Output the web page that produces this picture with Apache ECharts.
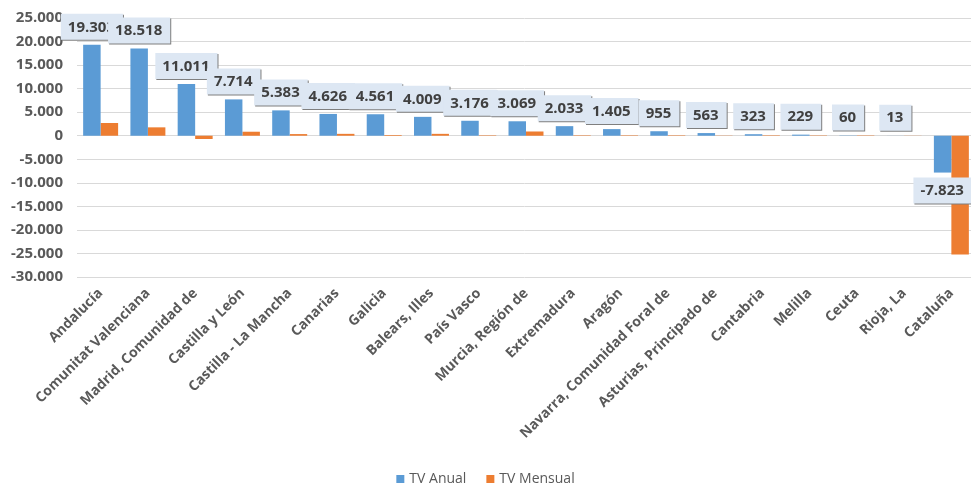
<!DOCTYPE html>
<html>
<head>
<meta charset="utf-8">
<script src="https://cdn.jsdelivr.net/npm/echarts@6/dist/echarts.min.js"></script>
<style>html,body{margin:0;padding:0;background:#fff}#c{width:971px;height:483px}</style>
</head>
<body>
<div id="c"></div>
<script>
var categories = ["Andalucía","Comunitat Valenciana","Madrid, Comunidad de","Castilla y León","Castilla - La Mancha","Canarias","Galicia","Balears, Illes","País Vasco","Murcia, Región de","Extremadura","Aragón","Navarra, Comunidad Foral de","Asturias, Principado de","Cantabria","Melilla","Ceuta","Rioja, La","Cataluña"];
var tvAnual = [19303,18518,11011,7714,5383,4626,4561,4009,3176,3069,2033,1405,955,563,323,229,60,13,-7823];
var tvMensual = [2700,1780,-700,850,350,400,150,400,100,900,100,100,100,50,100,80,80,30,-25200];
var yTicks = {min:-30000, max:25000, interval:5000};

function fmt(v){
  var s = Math.abs(Math.round(v)).toString().replace(/\B(?=(\d{3})+(?!\d))/g, '.');
  return (v < 0 ? '-' : '') + s;
}

var labelStyle = {
  show: true,
  position: 'top',
  distance: 5,
  formatter: function(p){ return fmt(p.value); },
  fontFamily: 'Open Sans',
  fontWeight: 'bold',
  fontSize: 15,
  color: '#404040',
  backgroundColor: '#dde7f3',
  padding: [6,8,5,7],
  shadowColor: '#7f7f7f',
  shadowBlur: 0,
  shadowOffsetX: 1,
  shadowOffsetY: 1
};

var anualData = tvAnual.map(function(v){
  return v < 0 ? {value: v, label: {position: 'bottom'}} : {value: v};
});

var chart = echarts.init(document.getElementById('c'), null, {renderer:'canvas'});
chart.setOption({
  animation: false,
  textStyle: {fontFamily: 'Open Sans'},
  grid: {left: 77, top: 18, width: 898, height: 259, outerBoundsMode: 'none', containLabel: false},
  legend: {
    top: 467,
    left: 'center',
    icon: 'rect',
    itemWidth: 8,
    itemHeight: 8,
    itemGap: 20,
    textStyle: {color: '#595959', fontSize: 14, fontFamily: 'Open Sans'},
    data: ['TV Anual','TV Mensual']
  },
  xAxis: {
    type: 'category',
    data: categories,
    position: 'bottom',
    axisLine: {show: false, onZero: false},
    axisTick: {show: false},
    axisLabel: {
      interval: 0,
      rotate: 45,
      margin: 14,
      color: '#595959',
      fontSize: 14,
      fontWeight: 'bold',
      fontFamily: 'Open Sans'
    }
  },
  yAxis: {
    type: 'value',
    min: yTicks.min,
    max: yTicks.max,
    interval: yTicks.interval,
    axisLine: {show: false},
    axisTick: {show: false},
    splitLine: {lineStyle: {color: '#d9d9d9', width: 1}},
    axisLabel: {
      margin: 14,
      color: '#595959',
      fontSize: 15,
      fontWeight: 'bold',
      fontFamily: 'Open Sans',
      formatter: function(v){ return fmt(v); }
    }
  },
  series: [
    {
      name: 'TV Anual',
      type: 'bar',
      data: anualData,
      itemStyle: {color: '#5b9bd5'},
      barGap: '0%',
      barCategoryGap: '26%',
      label: labelStyle,
      z: 3
    },
    {
      name: 'TV Mensual',
      type: 'bar',
      data: tvMensual,
      itemStyle: {color: '#ed7d31'},
      barGap: '0%',
      barCategoryGap: '26%',
      z: 2
    }
  ]
});
</script>
</body>
</html>
